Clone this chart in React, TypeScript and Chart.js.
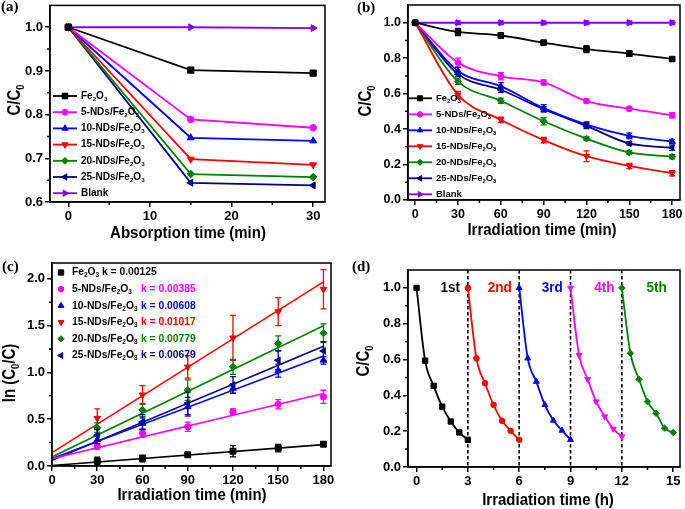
import React, { useEffect, useRef } from "react";
import { Chart, registerables } from "chart.js";
import { drawPoint } from "chart.js/helpers";

Chart.register(...registerables);

const SANS = "'Liberation Sans', Arial, Helvetica, sans-serif";
const SERIF = "'Liberation Serif', 'Times New Roman', serif";

// ---------- shared series info ----------
const seriesLabels = [
  "Fe_{2}O_{3}",
  "5-NDs/Fe_{2}O_{3}",
  "10-NDs/Fe_{2}O_{3}",
  "15-NDs/Fe_{2}O_{3}",
  "20-NDs/Fe_{2}O_{3}",
  "25-NDs/Fe_{2}O_{3}",
  "Blank",
];
const seriesColors = ["#000000", "#ff00ff", "#0000ff", "#ff0000", "#008000", "#000080", "#8000ff"];
const seriesStyles = ["rect", "circle", "triangle", "triangle", "rectRot", "triangle", "triangle"];
const seriesRotations = [0, 0, 0, 180, 0, 270, 90];

// ---------- panel (a) ----------
const absTime = [0, 15, 30];
const absFe2O3 = [1, 0.902, 0.895];
const abs5NDs = [1, 0.789, 0.77];
const abs10NDs = [1, 0.747, 0.74];
const abs15NDs = [1, 0.698, 0.685];
const abs20NDs = [1, 0.664, 0.657];
const abs25NDs = [1, 0.644, 0.638];
const absBlank = [1, 1.0, 0.998];
const absXTicks = [0, 10, 20, 30];
const absXMinor = [5, 15, 25];
const absYTicks = [0.6, 0.7, 0.8, 0.9, 1.0];
const absYMinor = [0.65, 0.75, 0.85, 0.95];

// ---------- panel (b) ----------
const irrTime = [0, 30, 60, 90, 120, 150, 180];
const irrFe2O3 = [1, 0.948, 0.928, 0.888, 0.851, 0.826, 0.795];
const irrFe2O3Err = [0, 0.02, 0.015, 0.01, 0.02, 0.015, 0.01];
const irr5NDs = [1, 0.775, 0.698, 0.663, 0.558, 0.515, 0.478];
const irr5NDsErr = [0, 0.025, 0.02, 0.015, 0.01, 0.01, 0.015];
const irr10NDs = [1, 0.728, 0.642, 0.518, 0.425, 0.362, 0.33];
const irr10NDsErr = [0, 0.02, 0.02, 0.02, 0.015, 0.015, 0.012];
const irr15NDs = [1, 0.593, 0.453, 0.338, 0.247, 0.192, 0.151];
const irr15NDsErr = [0, 0.02, 0.015, 0.015, 0.03, 0.015, 0.015];
const irr20NDs = [1, 0.668, 0.56, 0.444, 0.346, 0.268, 0.244];
const irr20NDsErr = [0, 0.015, 0.015, 0.02, 0.01, 0.01, 0.012];
const irr25NDs = [1, 0.71, 0.622, 0.512, 0.418, 0.319, 0.295];
const irr25NDsErr = [0, 0.015, 0.015, 0.015, 0.015, 0.01, 0.015];
const irrBlank = [1, 1, 1, 1, 1, 1, 1];
const irrBlankErr = [0, 0.01, 0.01, 0.01, 0.01, 0.01, 0.01];
const irrXTicks = [0, 30, 60, 90, 120, 150, 180];
const irrXMinor = [15, 45, 75, 105, 135, 165];
const irrYTicks = [0, 0.2, 0.4, 0.6, 0.8, 1.0];
const irrYMinor = [0.1, 0.3, 0.5, 0.7, 0.9];

// ---------- panel (c) ----------
const kinTime = [30, 60, 90, 120, 150, 180];
const kinFe2O3 = [0.055, 0.08, 0.12, 0.158, 0.19, 0.233];
const kinFe2O3Err = [0.04, 0.035, 0.012, 0.06, 0.04, 0.02];
const kin5NDs = [0.21, 0.35, 0.42, 0.58, 0.66, 0.74];
const kin5NDsErr = [0.03, 0.04, 0.05, 0.03, 0.05, 0.07];
const kin10NDs = [0.28, 0.455, 0.633, 0.83, 1.02, 1.13];
const kin10NDsErr = [0.04, 0.06, 0.1, 0.05, 0.07, 0.04];
const kin15NDs = [0.51, 0.76, 1.06, 1.37, 1.65, 1.89];
const kin15NDsErr = [0.1, 0.1, 0.12, 0.24, 0.15, 0.21];
const kin20NDs = [0.41, 0.6, 0.81, 1.06, 1.31, 1.42];
const kin20NDsErr = [0.05, 0.07, 0.11, 0.08, 0.08, 0.1];
const kin25NDs = [0.33, 0.47, 0.67, 0.866, 1.13, 1.23];
const kin25NDsErr = [0.06, 0.08, 0.12, 0.09, 0.1, 0.1];
const fitX = [0, 180];
const fitFe2O3 = [0.006, 0.229];
const fit5NDs = [0.079, 0.776];
const fit10NDs = [0.08, 1.175];
const fit15NDs = [0.143, 1.968];
const fit20NDs = [0.097, 1.499];
const fit25NDs = [0.06, 1.28];
const kValues = ["0.00125", "0.00385", "0.00608", "0.01017", "0.00779", "0.00679"];
const kinXTicks = [0, 30, 60, 90, 120, 150, 180];
const kinXMinor = [15, 45, 75, 105, 135, 165];
const kinYTicks = [0, 0.5, 1.0, 1.5, 2.0];
const kinYMinor = [0.25, 0.75, 1.25, 1.75];

// ---------- panel (d) ----------
const cycle1X = [0, 0.5, 1, 1.5, 2, 2.5, 3];
const cycle1Y = [1.0, 0.594, 0.453, 0.337, 0.254, 0.193, 0.152];
const cycle2X = [3, 3.5, 4, 4.5, 5, 5.5, 6];
const cycle2Y = [1.0, 0.607, 0.468, 0.347, 0.258, 0.202, 0.152];
const cycle3X = [6, 6.5, 7, 7.5, 8, 8.5, 9];
const cycle3Y = [1.0, 0.607, 0.477, 0.347, 0.26, 0.204, 0.152];
const cycle4X = [9, 9.5, 10, 10.5, 11, 11.5, 12];
const cycle4Y = [1.0, 0.625, 0.49, 0.365, 0.282, 0.213, 0.17];
const cycle5X = [12, 12.5, 13, 13.5, 14, 14.5, 15];
const cycle5Y = [1.0, 0.635, 0.49, 0.365, 0.3, 0.217, 0.193];
const cycleNames = ["1st", "2nd", "3rd", "4th", "5th"];
const cycleNameX = [1.97, 4.86, 7.93, 10.98, 14.03];
const cycleNameY = [1.0, 1.0, 1.0, 1.0, 1.0];
const cycleBreaks = [3, 6, 9, 12];
const cycleColors = ["#000000", "#ff0000", "#0000ff", "#ff00ff", "#008000"];
const cycleStyles = ["rect", "circle", "triangle", "triangle", "rectRot"];
const cycleRotations = [0, 0, 0, 180, 0];
const cycXTicks = [0, 3, 6, 9, 12, 15];
const cycXMinor = [1.5, 4.5, 7.5, 10.5, 13.5];
const cycYTicks = [0, 0.2, 0.4, 0.6, 0.8, 1.0];
const cycYMinor = [0.1, 0.3, 0.5, 0.7, 0.9];

// ---------- helpers ----------
const RADII: Record<string, number> = { rect: 4.4, circle: 3.3, triangle: 4, rectRot: 3.8 };

function richSegments(s: string) {
  const segs: { t: string; sub: boolean }[] = [];
  let buf = "";
  let i = 0;
  while (i < s.length) {
    if (s[i] === "_" && s[i + 1] === "{") {
      if (buf) segs.push({ t: buf, sub: false });
      buf = "";
      const j = s.indexOf("}", i);
      segs.push({ t: s.slice(i + 2, j), sub: true });
      i = j + 1;
    } else {
      buf += s[i];
      i++;
    }
  }
  if (buf) segs.push({ t: buf, sub: false });
  return segs;
}

function drawRich(
  ctx: CanvasRenderingContext2D,
  s: string,
  x: number,
  y: number,
  size: number,
  color: string,
  align: "left" | "center" | "right",
  opts: { rotate?: boolean; stretch?: number; family?: string } = {}
) {
  const family = opts.family || SANS;
  ctx.save();
  ctx.translate(x, y);
  if (opts.rotate) ctx.rotate(-Math.PI / 2);
  if (opts.stretch) ctx.scale(1, opts.stretch);
  const segs = richSegments(s);
  const main = `bold ${size}px ${family}`;
  const sub = `bold ${size * 0.62}px ${family}`;
  let total = 0;
  const ws = segs.map((g) => {
    ctx.font = g.sub ? sub : main;
    const w = ctx.measureText(g.t).width;
    total += w;
    return w;
  });
  let cx = align === "left" ? 0 : align === "center" ? -total / 2 : -total;
  ctx.fillStyle = color;
  ctx.textBaseline = "middle";
  ctx.textAlign = "left";
  segs.forEach((g, i) => {
    ctx.font = g.sub ? sub : main;
    ctx.fillText(g.t, cx, g.sub ? size * 0.3 : 0);
    cx += ws[i];
  });
  ctx.restore();
  return total;
}

function seriesDataset(
  label: string,
  xs: number[],
  ys: number[],
  color: string,
  style: string,
  rot: number,
  scale: number,
  extra: any = {}
) {
  return {
    label,
    data: xs.map((x, i) => ({ x, y: ys[i] })),
    borderColor: color,
    backgroundColor: color,
    pointBackgroundColor: color,
    pointBorderColor: color,
    pointStyle: style,
    pointRotation: rot,
    pointRadius: RADII[style] * scale,
    pointBorderWidth: 1,
    borderWidth: 1.8,
    showLine: true,
    tension: 0,
    ...extra,
  };
}

type Deco = {
  letter: [string, number, number];
  xTitle: [string, number, number];
  yTitle: [string, number, number];
  titleSize: number;
  xMinor: number[];
  yMinor: number[];
  legend?: {
    kind: "line" | "marker";
    lineX0: number;
    lineX1: number;
    markX: number;
    textX: number;
    y0: number;
    dy: number;
    size: number;
    kX?: number;
  };
  vlines?: number[];
  labels?: { texts: string[]; xs: number[]; ys: number[]; colors: string[]; size: number };
};

function makeDecoPlugin(d: Deco) {
  return {
    id: "deco",
    beforeDatasetsDraw(chart: any) {
      if (!d.vlines) return;
      const ctx = chart.ctx;
      const ca = chart.chartArea;
      ctx.save();
      ctx.strokeStyle = "#000";
      ctx.lineWidth = 1.6;
      ctx.setLineDash([3.5, 2.5]);
      d.vlines.forEach((v) => {
        const px = chart.scales.x.getPixelForValue(v);
        ctx.beginPath();
        ctx.moveTo(px, ca.top);
        ctx.lineTo(px, ca.bottom);
        ctx.stroke();
      });
      ctx.restore();
    },
    afterDatasetsDraw(chart: any) {
      const ctx = chart.ctx;
      ctx.save();
      chart.data.datasets.forEach((ds: any, i: number) => {
        if (!ds.errors) return;
        const meta = chart.getDatasetMeta(i);
        ctx.strokeStyle = ds.borderColor;
        ctx.lineWidth = 1.3;
        ds.data.forEach((p: any, j: number) => {
          const e = ds.errors[j];
          if (!e) return;
          const px = meta.data[j].x;
          const yT = chart.scales.y.getPixelForValue(p.y + e);
          const yB = chart.scales.y.getPixelForValue(p.y - e);
          ctx.beginPath();
          ctx.moveTo(px, yT);
          ctx.lineTo(px, yB);
          ctx.moveTo(px - 3, yT);
          ctx.lineTo(px + 3, yT);
          ctx.moveTo(px - 3, yB);
          ctx.lineTo(px + 3, yB);
          ctx.stroke();
        });
      });
      ctx.restore();
    },
    afterDraw(chart: any) {
      const ctx = chart.ctx;
      const ca = chart.chartArea;
      const xs = chart.scales.x;
      const ys = chart.scales.y;
      ctx.save();
      // frame
      ctx.strokeStyle = "#000";
      ctx.lineWidth = 1.5;
      ctx.strokeRect(ca.left, ca.top, ca.right - ca.left, ca.bottom - ca.top);
      // minor ticks
      ctx.beginPath();
      d.xMinor.forEach((v) => {
        const px = xs.getPixelForValue(v);
        ctx.moveTo(px, ca.bottom);
        ctx.lineTo(px, ca.bottom + 3);
      });
      d.yMinor.forEach((v) => {
        const py = ys.getPixelForValue(v);
        ctx.moveTo(ca.left, py);
        ctx.lineTo(ca.left - 3, py);
      });
      ctx.stroke();
      // panel letter
      drawRich(ctx, d.letter[0], d.letter[1], d.letter[2], 15, "#000", "left", { family: SERIF });
      // axis titles
      drawRich(ctx, d.xTitle[0], d.xTitle[1], d.xTitle[2], d.titleSize, "#000", "center", { stretch: 1.15 });
      drawRich(ctx, d.yTitle[0], d.yTitle[1], d.yTitle[2], d.titleSize, "#000", "center", {
        rotate: true,
        stretch: 1.25,
      });
      // legend
      if (d.legend) {
        const L = d.legend;
        let row = 0;
        chart.data.datasets.forEach((ds: any) => {
          if (ds.isFit) return;
          const y = L.y0 + L.dy * row;
          const color = ds.borderColor;
          if (L.kind === "line") {
            ctx.strokeStyle = color;
            ctx.lineWidth = 1.8;
            ctx.beginPath();
            ctx.moveTo(L.lineX0, y);
            ctx.lineTo(L.lineX1, y);
            ctx.stroke();
          }
          ctx.fillStyle = color;
          ctx.strokeStyle = color;
          ctx.lineWidth = 1;
          drawPoint(
            ctx,
            { pointStyle: ds.pointStyle, rotation: ds.pointRotation, radius: ds.pointRadius * 0.9, borderWidth: 1 } as any,
            L.markX,
            y
          );
          if (L.kX !== undefined && ds.kText) {
            if (row === 0) {
              drawRich(ctx, ds.label + " k = " + ds.kText, L.textX, y, L.size, "#000", "left");
            } else {
              drawRich(ctx, ds.label, L.textX, y, L.size, "#000", "left");
              drawRich(ctx, "k = " + ds.kText, L.kX, y, L.size, color, "left");
            }
          } else {
            drawRich(ctx, ds.label, L.textX, y, L.size, "#000", "left");
          }
          row++;
        });
      }
      // in-plot labels
      if (d.labels) {
        const T = d.labels;
        T.texts.forEach((t, i) => {
          drawRich(ctx, t, xs.getPixelForValue(T.xs[i]), ys.getPixelForValue(T.ys[i]), T.size, T.colors[i], "center", {
            stretch: 1.1,
          });
        });
      }
      ctx.restore();
    },
  };
}

type PanelSpec = {
  datasets: any[];
  xMin: number;
  xMax: number;
  yMin: number;
  yMax: number;
  xTicks: number[];
  yTicks: number[];
  xDec: number;
  yDec: number;
  yWidth: number;
  xHeight: number;
  padTop: number;
  padRight: number;
  tickSize: number;
  deco: Deco;
};

function makeConfig(p: PanelSpec): any {
  const font = { family: SANS, weight: "bold" as const, size: p.tickSize };
  const grid = { drawOnChartArea: false, drawTicks: true, tickLength: 5, color: "#000", lineWidth: 1.5 };
  const border = { display: true, color: "#000", width: 1.5 };
  return {
    type: "scatter",
    data: { datasets: p.datasets },
    plugins: [makeDecoPlugin(p.deco)],
    options: {
      animation: false,
      responsive: false,
      devicePixelRatio: 1,
      events: [],
      layout: { padding: { left: 0, top: p.padTop, right: p.padRight, bottom: 0 } },
      plugins: { legend: { display: false }, tooltip: { enabled: false } },
      scales: {
        x: {
          type: "linear",
          min: p.xMin,
          max: p.xMax,
          afterBuildTicks: (s: any) => {
            s.ticks = p.xTicks.map((v) => ({ value: v }));
          },
          afterFit: (s: any) => {
            s.height = p.xHeight;
            s.paddingLeft = 0;
            s.paddingRight = 0;
          },
          ticks: {
            font,
            color: "#000",
            padding: 2,
            autoSkip: false,
            maxRotation: 0,
            callback: (v: any) => Number(v).toFixed(p.xDec),
          },
          grid,
          border,
        },
        y: {
          type: "linear",
          min: p.yMin,
          max: p.yMax,
          afterBuildTicks: (s: any) => {
            s.ticks = p.yTicks.map((v) => ({ value: v }));
          },
          afterFit: (s: any) => {
            s.width = p.yWidth;
            s.paddingTop = 0;
            s.paddingBottom = 0;
          },
          ticks: {
            font,
            color: "#000",
            padding: 2,
            autoSkip: false,
            callback: (v: any) => Number(v).toFixed(p.yDec),
          },
          grid,
          border,
        },
      },
    },
  };
}

function configA() {
  const ys = [absFe2O3, abs5NDs, abs10NDs, abs15NDs, abs20NDs, abs25NDs, absBlank];
  const datasets = ys.map((y, i) =>
    seriesDataset(seriesLabels[i], absTime, y, seriesColors[i], seriesStyles[i], seriesRotations[i], 1)
  );
  return makeConfig({
    datasets,
    xMin: -2.25,
    xMax: 31.45,
    yMin: 0.6,
    yMax: 1.05,
    xTicks: absXTicks,
    yTicks: absYTicks,
    xDec: 0,
    yDec: 1,
    yWidth: 50,
    xHeight: 48,
    padTop: 4,
    padRight: 15,
    tickSize: 13,
    deco: {
      letter: ["(a)", 1, 7],
      xTitle: ["Absorption time (min)", 188, 233],
      yTitle: ["C/C_{0}", 15, 100],
      titleSize: 15,
      xMinor: absXMinor,
      yMinor: absYMinor,
      legend: { kind: "line", lineX0: 53, lineX1: 77, markX: 65, textX: 81, y0: 96, dy: 16.2, size: 10 },
    },
  });
}

function configB() {
  const ys = [irrFe2O3, irr5NDs, irr10NDs, irr15NDs, irr20NDs, irr25NDs, irrBlank];
  const es = [irrFe2O3Err, irr5NDsErr, irr10NDsErr, irr15NDsErr, irr20NDsErr, irr25NDsErr, irrBlankErr];
  const datasets = ys.map((y, i) =>
    seriesDataset(seriesLabels[i], irrTime, y, seriesColors[i], seriesStyles[i], seriesRotations[i], 0.9, {
      errors: es[i],
      cubicInterpolationMode: "monotone",
    })
  );
  return makeConfig({
    datasets,
    xMin: -5,
    xMax: 185.5,
    yMin: 0,
    yMax: 1.1,
    xTicks: irrXTicks,
    yTicks: irrYTicks,
    xDec: 0,
    yDec: 1,
    yWidth: 68,
    xHeight: 50,
    padTop: 4,
    padRight: 2,
    tickSize: 12.5,
    deco: {
      letter: ["(b)", 17, 8],
      xTitle: ["Irradiation time (min)", 202, 230],
      yTitle: ["C/C_{0}", 26, 101],
      titleSize: 15,
      xMinor: irrXMinor,
      yMinor: irrYMinor,
      legend: { kind: "line", lineX0: 69, lineX1: 92, markX: 80, textX: 96, y0: 98.3, dy: 16, size: 9.5 },
    },
  });
}

function configC() {
  const ys = [kinFe2O3, kin5NDs, kin10NDs, kin15NDs, kin20NDs, kin25NDs];
  const es = [kinFe2O3Err, kin5NDsErr, kin10NDsErr, kin15NDsErr, kin20NDsErr, kin25NDsErr];
  const fits = [fitFe2O3, fit5NDs, fit10NDs, fit15NDs, fit20NDs, fit25NDs];
  const points = ys.map((y, i) =>
    seriesDataset(seriesLabels[i], kinTime, y, seriesColors[i], seriesStyles[i], seriesRotations[i], 0.95, {
      errors: es[i],
      showLine: false,
      kText: kValues[i],
    })
  );
  const lines = fits.map((f, i) =>
    seriesDataset(seriesLabels[i] + " fit", fitX, f, seriesColors[i], "circle", 0, 0, {
      isFit: true,
      pointRadius: 0,
      borderWidth: 1.6,
    })
  );
  return makeConfig({
    datasets: [...points, ...lines],
    xMin: 0,
    xMax: 185,
    yMin: 0,
    yMax: 2.17,
    xTicks: kinXTicks,
    yTicks: kinYTicks,
    xDec: 0,
    yDec: 1,
    yWidth: 52,
    xHeight: 43,
    padTop: 13,
    padRight: 9,
    tickSize: 13,
    deco: {
      letter: ["(c)", 2, 17],
      xTitle: ["Irradiation time (min)", 192, 245],
      yTitle: ["ln (C_{0}/C)", 10, 123],
      titleSize: 15,
      xMinor: kinXMinor,
      yMinor: kinYMinor,
      legend: { kind: "marker", lineX0: 0, lineX1: 0, markX: 61, textX: 72, y0: 22.5, dy: 16.6, size: 10.3, kX: 141 },
    },
  });
}

function configD() {
  const xs = [cycle1X, cycle2X, cycle3X, cycle4X, cycle5X];
  const ys = [cycle1Y, cycle2Y, cycle3Y, cycle4Y, cycle5Y];
  const datasets = ys.map((y, i) =>
    seriesDataset(cycleNames[i], xs[i], y, cycleColors[i], cycleStyles[i], cycleRotations[i], 0.85, {
      cubicInterpolationMode: "monotone",
    })
  );
  return makeConfig({
    datasets,
    xMin: -0.5,
    xMax: 15.4,
    yMin: 0,
    yMax: 1.1,
    xTicks: cycXTicks,
    yTicks: cycYTicks,
    xDec: 0,
    yDec: 1,
    yWidth: 68,
    xHeight: 42,
    padTop: 20,
    padRight: 3,
    tickSize: 13,
    deco: {
      letter: ["(d)", 12, 17],
      xTitle: ["Irradiation time (h)", 208, 250],
      yTitle: ["C/C_{0}", 24, 111],
      titleSize: 15,
      xMinor: cycXMinor,
      yMinor: cycYMinor,
      vlines: cycleBreaks,
      labels: { texts: cycleNames, xs: cycleNameX, ys: cycleNameY, colors: cycleColors, size: 13.5 },
    },
  });
}

function ChartPanel(props: { make: () => any; left: number; top: number; width: number; height: number }) {
  const ref = useRef<HTMLCanvasElement | null>(null);
  useEffect(() => {
    const chart = new Chart(ref.current as HTMLCanvasElement, props.make());
    return () => chart.destroy();
  }, []);
  return (
    <canvas
      ref={ref}
      width={props.width}
      height={props.height}
      style={{ position: "absolute", left: props.left, top: props.top, width: props.width, height: props.height }}
    />
  );
}

export default function App() {
  return (
    <div
      style={{
        position: "fixed",
        left: 0,
        top: 0,
        width: 685,
        height: 509,
        background: "#ffffff",
        overflow: "hidden",
      }}
    >
      <ChartPanel make={configA} left={0} top={0} width={340} height={250} />
      <ChartPanel make={configB} left={340} top={0} width={345} height={250} />
      <ChartPanel make={configC} left={0} top={250} width={340} height={259} />
      <ChartPanel make={configD} left={340} top={250} width={345} height={259} />
    </div>
  );
}
